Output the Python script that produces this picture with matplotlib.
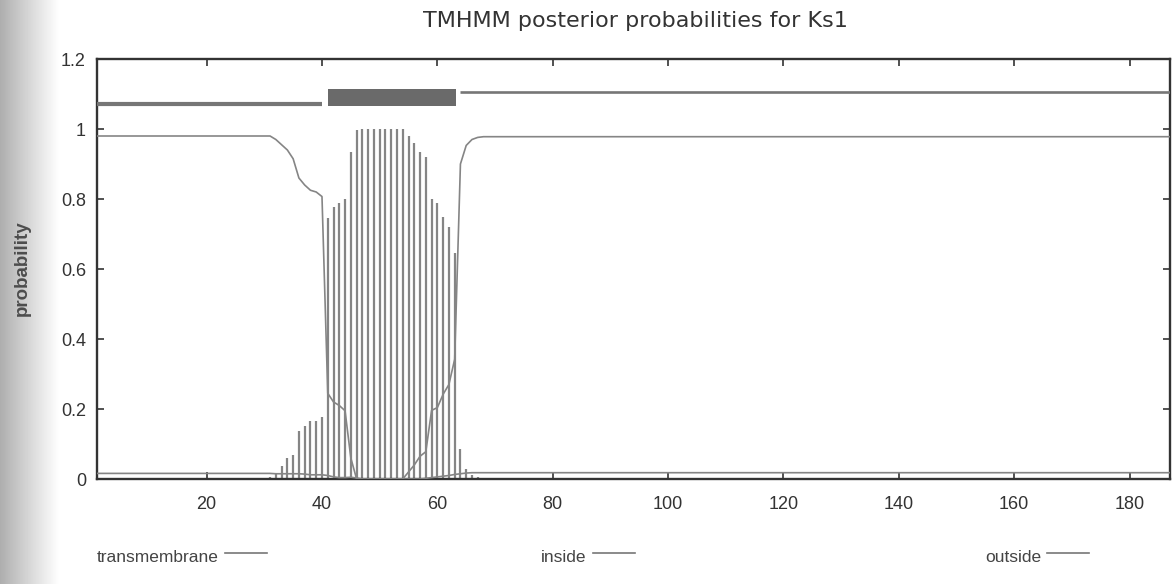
import numpy as np
import matplotlib
matplotlib.use("Agg")
import matplotlib.pyplot as plt
from matplotlib.patches import Rectangle
from matplotlib.lines import Line2D

# ---------------- data ----------------
seq_length = 187
x_ticks = [20, 40, 60, 80, 100, 120, 140, 160, 180]
y_ticks = [0, 0.2, 0.4, 0.6, 0.8, 1.0, 1.2]
y_tick_labels = ["0", "0.2", "0.4", "0.6", "0.8", "1", "1.2"]

# residues 31..67 (region around the helix)
detail_residues = list(range(31, 68))
tm_prob = [0.005, 0.017, 0.037, 0.061, 0.07, 0.138, 0.152, 0.167, 0.167, 0.176,
           0.745, 0.778, 0.788, 0.80, 0.933, 0.997, 1.0, 1.0, 1.0, 1.0,
           1.0, 1.0, 1.0, 1.0, 0.98, 0.96, 0.935, 0.92, 0.80, 0.79,
           0.75, 0.72, 0.645, 0.085, 0.03, 0.012, 0.006]
inside_detail = [0.98, 0.97, 0.955, 0.94, 0.915, 0.86, 0.84, 0.825, 0.82, 0.807,
                 0.245, 0.22, 0.21, 0.195, 0.06, 0.0, 0.0, 0.0, 0.0, 0.0,
                 0.0, 0.0, 0.0, 0.0, 0.0, 0.0, 0.0, 0.002, 0.004, 0.006,
                 0.008, 0.01, 0.013, 0.015, 0.017, 0.018, 0.018]
outside_detail = [0.016, 0.015, 0.015, 0.015, 0.015, 0.015, 0.014, 0.012, 0.012, 0.012,
                  0.01, 0.006, 0.004, 0.004, 0.005, 0.003, 0.0, 0.0, 0.0, 0.0,
                  0.0, 0.0, 0.0, 0.0, 0.02, 0.04, 0.065, 0.078, 0.196, 0.204,
                  0.242, 0.27, 0.342, 0.90, 0.953, 0.97, 0.976]
# flat parts before residue 31 and after residue 67
inside_before, inside_after = 0.98, 0.018
outside_before, outside_after = 0.016, 0.978

# predicted topology: (start, end, kind)
topology = [(1, 40, "inside"), (41, 63.3, "TMhelix"), (64, 187, "outside")]
topo_levels = {"inside": 1.071, "outside": 1.107}
tm_box = (1.066, 1.114)

legend_labels = ["transmembrane", "inside", "outside"]

# ---------------- build series ----------------
n_before = detail_residues[0] - 1
n_after = seq_length - detail_residues[-1]
residues = list(range(1, seq_length + 1))
inside = [inside_before] * n_before + inside_detail + [inside_after] * n_after
outside = [outside_before] * n_before + outside_detail + [outside_after] * n_after

# ---------------- figure ----------------
W, H = 1175, 584
fig = plt.figure(figsize=(W / 100, H / 100), dpi=100)
fig.patch.set_facecolor("white")

# scanner shadow on the left edge
bg = fig.add_axes([0, 0, 1, 1], zorder=-10)
grad = np.linspace(0.62, 1.0, 60) ** 0.8
grad = np.concatenate([grad, np.ones(1115)])
bg.imshow(np.tile(grad, (10, 1)), cmap="gray", vmin=0, vmax=1, aspect="auto",
          extent=[0, 1, 0, 1])
bg.set_axis_off()

ax = fig.add_axes([97 / W, 1 - 479 / H, (1170 - 97) / W, (479 - 59) / H])
ax.set_facecolor("white")

line_col = "#858585"
ax.vlines(detail_residues, 0, tm_prob, colors=line_col, linewidth=1.6, zorder=2)
ax.plot(residues, inside, color=line_col, linewidth=1.2, zorder=3)
ax.plot(residues, outside, color=line_col, linewidth=1.2, zorder=3)

for start, end, kind in topology:
    if kind == "TMhelix":
        ax.add_patch(Rectangle((start, tm_box[0]), end - start, tm_box[1] - tm_box[0],
                               facecolor="#6a6a6a", edgecolor="none", zorder=4))
    else:
        lw = 3.0 if kind == "inside" else 1.9
        ax.plot([start, end], [topo_levels[kind]] * 2, color="#767676",
                linewidth=lw, solid_capstyle="butt", zorder=4)

ax.set_xlim(1, seq_length)
ax.set_ylim(0, 1.2)
ax.set_xticks(x_ticks)
ax.set_yticks(y_ticks)
ax.set_yticklabels(y_tick_labels)
ax.tick_params(direction="in", length=5, width=1.2, color="#333333",
               top=True, right=True, labelsize=13, labelcolor="#333333", pad=8)
ax.tick_params(axis="x", pad=12)
for lab in ax.get_xticklabels() + ax.get_yticklabels():
    lab.set_family("Liberation Sans")
for sp in ax.spines.values():
    sp.set_color("#333333")
    sp.set_linewidth(1.7)

fig.text(22 / W, 1 - 268 / H, "probability", rotation=90, ha="center", va="center",
         fontsize=13.5, color="#4d4d4d", family="Liberation Sans", weight="bold")
fig.text(635 / W, 1 - 21 / H, "TMHMM posterior probabilities for Ks1",
         ha="center", va="center", fontsize=16, color="#333333", family="DejaVu Sans")

# legend row
legend_x = [97, 541, 985]
for lx, lab in zip(legend_x, legend_labels):
    fig.text(lx / W, 1 - 557 / H, lab, ha="left", va="center", fontsize=12.5,
             color="#444444", family="Liberation Sans")
fig.canvas.draw()
renderer = fig.canvas.get_renderer()
for t in fig.texts[-3:]:
    bb = t.get_window_extent(renderer)
    x0 = bb.x1 + 6
    fig.add_artist(Line2D([x0 / W, (x0 + 42) / W], [1 - 553 / H] * 2,
                          color="#777777", linewidth=1.2))

fig.savefig("out.png", dpi=100)
